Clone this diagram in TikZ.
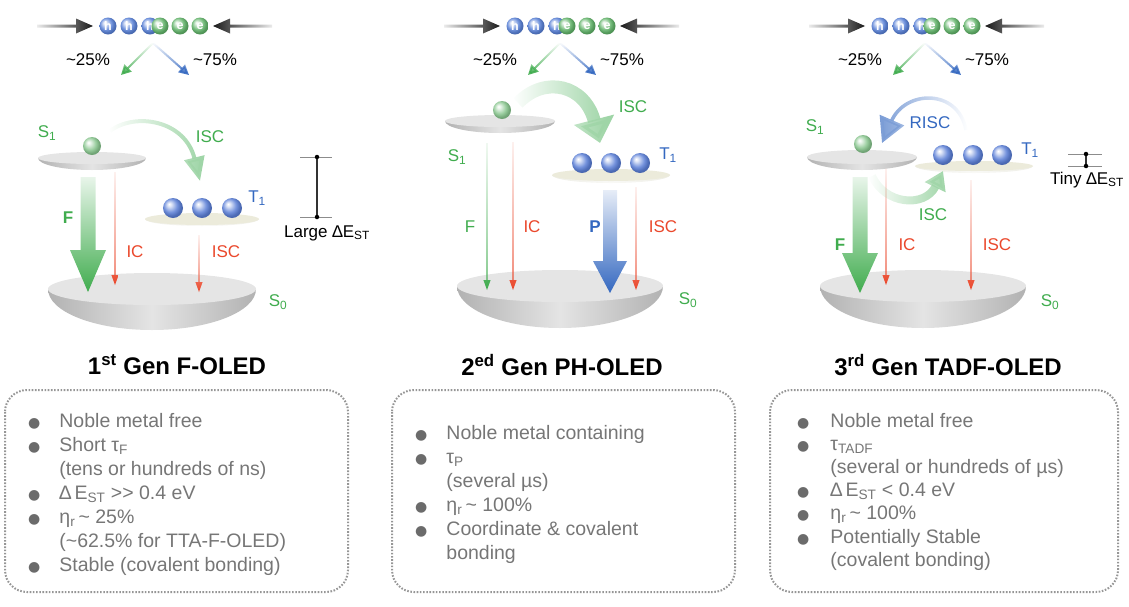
\documentclass[tikz,border=0pt]{standalone}
\usepackage{fontspec}
\setmainfont{Liberation Sans}
\newfontfamily\dotfont{DejaVu Sans}
\usetikzlibrary{arrows.meta,fadings}
\definecolor{lgreen}{RGB}{64,172,78}
\definecolor{lred}{RGB}{234,72,44}
\definecolor{lblue}{RGB}{52,104,192}
\definecolor{tgray}{RGB}{118,118,118}
\definecolor{dgray}{RGB}{150,150,150}
\definecolor{sface}{RGB}{229,229,229}
\definecolor{tface}{RGB}{236,235,219}
\definecolor{sside}{RGB}{178,178,178}
\definecolor{tside}{RGB}{238,238,230}
\definecolor{hball}{RGB}{88,128,214}
\definecolor{eball}{RGB}{96,178,104}
\definecolor{tball}{RGB}{90,126,214}
\makeatletter
\pgfdeclareradialshading[tikz@ball]{softball}{\pgfqpoint{-10bp}{10bp}}{%
  color(0bp)=(tikz@ball!0!white); color(5bp)=(tikz@ball!20!white);
  color(17bp)=(tikz@ball!85!white); color(25bp)=(tikz@ball!85!black);
  color(50bp)=(tikz@ball!60!black)}
\makeatother
% level disk: cx, cy, rx, ry, depth, face, side
\newcommand{\leveldisk}[7]{%
  \shade[left color=#7,right color=#7,middle color=#7!35!white]
    (#1-#3,#2) arc[start angle=180,end angle=0,x radius=#3,y radius=#5] -- cycle;
  \fill[#6] (#1,#2) ellipse[x radius=#3,y radius=#4];}
% downward shaded arrow: x, top, tip, half shaft, half head, head length, colour
\newcommand{\fatarr}[7]{%
  \shade[top color=#7!12!white,bottom color=#7]
    (#1-#4,#2) -- (#1-#4,#3-#6) -- (#1-#5,#3-#6) -- (#1,#3)
    -- (#1+#5,#3-#6) -- (#1+#4,#3-#6) -- (#1+#4,#2) -- cycle;}
% sideways shaded arrow: tail x, head base x, tip x, y, shading
\newcommand{\sidearr}[5]{%
  \shade[#5] (#1,#4-1.5) -- (#2,#4-1.5) -- (#2,#4-7.5) -- (#3,#4)
    -- (#2,#4+7.5) -- (#2,#4+1.5) -- (#1,#4+1.5) -- cycle;}
\newcommand{\itemdot}{{\dotfont\fontsize{14}{14}\selectfont\textcolor{black!58}{●}}}
\begin{document}
\begin{tikzpicture}[x=1pt,y=-1pt,
    every node/.style={inner sep=0pt},
    lbl/.style={font=\fontsize{17}{17}\selectfont},
    pct/.style={font=\fontsize{17}{17}\selectfont},
    gen/.style={font=\fontsize{24}{24}\selectfont\bfseries},
    items/.style={font=\fontsize{19.5}{24}\selectfont,text=tgray,anchor=base west},
    box/.style={draw=dgray,line width=2pt,dash pattern=on 1.6pt off 1.6pt,rounded corners=22pt},
    pcl/.style={circle,minimum size=17pt,shade,shading=softball,text=white,font=\fontsize{12.5}{12.5}\selectfont\bfseries},
    bead/.style={circle,minimum size=#1,shade,shading=softball},
    branch/.style={line width=2pt,-{Triangle[length=10pt,width=10pt]},path fading=north},
    bar/.style={line width=1.2pt,black!80},
    rung/.style={line width=.8pt,black!45},
    endpt/.style={circle,fill=black,minimum size=4.5pt}]
 \useasboundingbox (0,0) rectangle (1129,606);
 % carriers entering, for each panel
 \foreach \p/\dx in {a/0,b/407,c/772}{
  \begin{scope}[xshift=\dx]
   \sidearr{37}{76}{93}{26}{left color=black!8,right color=black!90}
   \sidearr{272}{230}{213}{26}{right color=black!8,left color=black!90}
   \foreach \cx/\t/\c in {108/h/hball,129/h/hball,150/h/hball,160/e/eball,180/e/eball,200/e/eball}
     \node[pcl,ball color=\c,shading=softball] (\p\t\cx) at (\cx,26) {\t};
   \coordinate (\p o) at (153,43);
   \coordinate (\p g) at (121,75); \coordinate (\p b) at (189,75);
   \draw[branch,lgreen] (\p o) -- (\p g);
   \draw[branch,lblue] (\p o) -- (\p b);
   \node[pct] (\p q) at (88,60) {\textasciitilde25\%};
   \node[pct] (\p t) at (215,60) {\textasciitilde75\%};
  \end{scope}}

 % 1st gen
 \leveldisk{152}{289}{104}{16}{41}{sface}{sside}
 \fatarr{88}{177}{292}{7.5}{18}{42}{lgreen}
 \fatarr{115}{172}{285}{0.6}{3.6}{10}{lred}
 \fatarr{199}{235}{292}{0.6}{3.6}{10}{lred}
 \leveldisk{92}{158}{54}{6}{12}{sface}{sside}
 \leveldisk{202}{219}{57}{6}{7}{tface}{tside}
 \node[bead=18pt,ball color=eball!75!white,shading=softball] (s1a) at (92,146) {};
 \foreach \cx in {173,202,232} \node[bead=20pt,ball color=tball,shading=softball] (t1a\cx) at (\cx,208) {};
 \coordinate (x1a) at (110,131); \coordinate (x1b) at (200,181);
 \draw[lgreen!50!white,line width=4pt,-{Triangle[length=24pt,width=20pt]},path fading=west]
   (x1a) .. controls (135,112) and (185,120) .. (x1b);
 \node[lbl,text=lgreen] (s1la) at (47,133) {S\textsubscript{1}};
 \node[lbl,text=lgreen] (isla) at (210,137) {ISC};
 \node[lbl,text=lblue] (t1la) at (257,198) {T\textsubscript{1}};
 \node[lbl,text=lgreen,font=\fontsize{17}{17}\selectfont\bfseries] (fla) at (68,218) {F};
 \node[lbl,text=lred] (icla) at (135,252) {IC};
 \node[lbl,text=lred] (isra) at (226,252) {ISC};
 \node[lbl,text=lgreen] (s0la) at (278,302) {S\textsubscript{0}};
 \coordinate (lg0) at (317,157); \coordinate (lg1) at (317,217);
 \draw[rung] (300,157) -- (332,157); \draw[rung] (300,217) -- (332,217);
 \draw[bar] (lg0) -- (lg1);
 \node[endpt] at (lg0) {}; \node[endpt] at (lg1) {};
 \node[lbl] (lgl) at (327,233) {Large ∆E\textsubscript{ST}};

 % 2nd gen
 \leveldisk{560}{286}{103}{16}{42}{sface}{sside}
 \fatarr{487}{143}{290}{0.6}{3.6}{10}{lgreen}
 \fatarr{513}{142}{290}{0.6}{3.6}{10}{lred}
 \fatarr{636}{187}{290}{0.6}{3.6}{10}{lred}
 \fatarr{610}{190}{293}{7}{17}{32}{lblue}
 \leveldisk{500}{121}{55}{6}{12}{sface}{sside}
 \leveldisk{611}{175}{59}{6}{8}{tface}{tside}
 \node[bead=18pt,ball color=eball!75!white,shading=softball] (s1b) at (502,110) {};
 \foreach \cx in {582,611,640} \node[bead=20pt,ball color=tball,shading=softball] (t1b\cx) at (\cx,163) {};
 \coordinate (x2a) at (518,103); \coordinate (x2b) at (600,143);
 \draw[lgreen!50!white,line width=13pt,-{Triangle[length=24pt,width=40pt]},path fading=west]
   (x2a) .. controls (545,75) and (585,85) .. (x2b);
 \node[lbl,text=lgreen] (s1lb) at (457,157) {S\textsubscript{1}};
 \node[lbl,text=lgreen] (islb) at (633,107) {ISC};
 \node[lbl,text=lblue] (t1lb) at (668,155) {T\textsubscript{1}};
 \node[lbl,text=lgreen] (flb) at (470,227) {F};
 \node[lbl,text=lred] (iclb) at (532,227) {IC};
 \node[lbl,text=lblue,font=\fontsize{17}{17}\selectfont\bfseries] (plb) at (595,227) {P};
 \node[lbl,text=lred] (isrb) at (663,227) {ISC};
 \node[lbl,text=lgreen] (s0lb) at (688,300) {S\textsubscript{0}};

 % 3rd gen
 \leveldisk{923}{286}{103}{16}{42}{sface}{sside}
 \fatarr{860}{177}{293}{7.5}{18}{40}{lgreen}
 \fatarr{886}{168}{285}{0.6}{3.6}{10}{lred}
 \fatarr{971}{180}{290}{0.6}{3.6}{10}{lred}
 \leveldisk{862}{157}{55}{7}{13}{sface}{sside}
 \leveldisk{974}{166}{59}{5}{7}{tface}{tside}
 \node[bead=18pt,ball color=eball!75!white,shading=softball] (s1c) at (863,144) {};
 \foreach \cx in {943,973,1002} \node[bead=20pt,ball color=tball,shading=softball] (t1c\cx) at (\cx,155) {};
 \coordinate (x3a) at (872,176); \coordinate (x3b) at (943,171);
 \draw[lgreen!50!white,line width=8pt,-{Triangle[length=18pt,width=22pt]},path fading=west]
   (x3a) .. controls (885,205) and (925,208) .. (x3b);
 \coordinate (r3a) at (966,130); \coordinate (r3b) at (882,143);
 \draw[lblue!65!white,line width=3.5pt,-{Triangle[length=25pt,width=26pt]},path fading=east]
   (r3a) .. controls (958,88) and (905,90) .. (r3b);
 \node[lbl,text=lgreen] (s1lc) at (815,127) {S\textsubscript{1}};
 \node[lbl,text=lblue] (rilc) at (930,123) {RISC};
 \node[lbl,text=lblue] (t1lc) at (1030,150) {T\textsubscript{1}};
 \node[lbl,text=lgreen] (islc) at (933,215) {ISC};
 \node[lbl,text=lgreen,font=\fontsize{17}{17}\selectfont\bfseries] (flc) at (840,245) {F};
 \node[lbl,text=lred] (iclc) at (907,245) {IC};
 \node[lbl,text=lred] (isrc) at (997,245) {ISC};
 \node[lbl,text=lgreen] (s0lc) at (1050,302) {S\textsubscript{0}};
 \coordinate (ty0) at (1086,154); \coordinate (ty1) at (1086,166);
 \draw[rung] (1068,154) -- (1102,154); \draw[rung] (1068,166) -- (1102,166);
 \draw[bar] (ty0) -- (ty1);
 \node[endpt] at (ty0) {}; \node[endpt] at (ty1) {};
 \node[lbl] (tyl) at (1087,180) {Tiny ∆E\textsubscript{ST}};

 % titles and property boxes
 \node[gen] (g1) at (177,365) {1\textsuperscript{st} Gen F-OLED};
 \node[gen] (g2) at (562,365) {2\textsuperscript{ed} Gen PH-OLED};
 \node[gen] (g3) at (948,365) {3\textsuperscript{rd} Gen TADF-OLED};
 \draw[box] (5,390) rectangle (348,592);
 \draw[box] (392,390) rectangle (735,592);
 \draw[box] (770,390) rectangle (1118,592);
 \node[items] (it1) at (28,427) {\begin{tabular}[t]{@{}l@{\hspace{19pt}}l@{}}
  \itemdot & Noble metal free\\
  \itemdot & Short τ\textsubscript{F}\\
   & (tens or hundreds of ns)\\
  \itemdot & ∆\,E\textsubscript{ST} >{}> 0.4 eV\\
  \itemdot & η\textsubscript{r}\,\textasciitilde\ 25\%\\
   & (\textasciitilde62.5\% for TTA-F-OLED)\\
  \itemdot & Stable (covalent bonding)
 \end{tabular}};
 \node[items] (it2) at (415,439) {\begin{tabular}[t]{@{}l@{\hspace{19pt}}l@{}}
  \itemdot & Noble metal containing\\
  \itemdot & τ\textsubscript{P}\\
   & (several µs)\\
  \itemdot & η\textsubscript{r}\,\textasciitilde\ 100\%\\
  \itemdot & Coordinate \& covalent\\
   & bonding
 \end{tabular}};
 \node[items,font=\fontsize{19.5}{23.2}\selectfont] (it3) at (797,427) {\begin{tabular}[t]{@{}l@{\hspace{21pt}}l@{}}
  \itemdot & Noble metal free\\
  \itemdot & τ\textsubscript{TADF}\\
   & (several or hundreds of µs)\\
  \itemdot & ∆\,E\textsubscript{ST} < 0.4 eV\\
  \itemdot & η\textsubscript{r}\,\textasciitilde\ 100\%\\
  \itemdot & Potentially Stable\\
   & (covalent bonding)
 \end{tabular}};
\end{tikzpicture}
\end{document}
